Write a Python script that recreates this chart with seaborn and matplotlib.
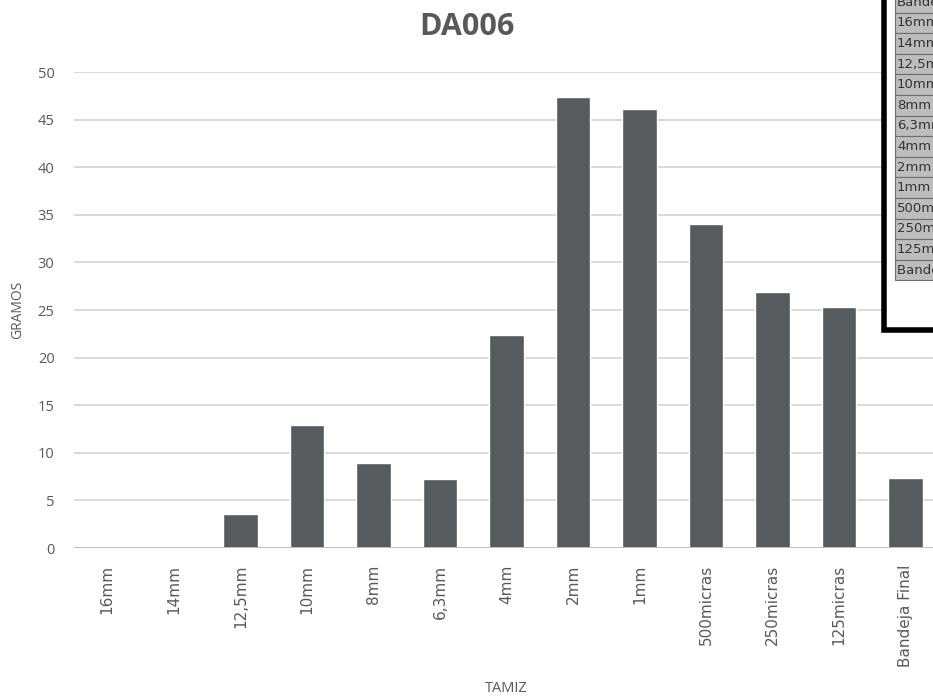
import matplotlib
matplotlib.use("Agg")
import matplotlib.pyplot as plt
import seaborn as sns
import pandas as pd
from matplotlib.patches import Rectangle

# datos del tamizado DA006
tamiz = ['16mm', '14mm', '12,5mm', '10mm', '8mm', '6,3mm', '4mm', '2mm', '1mm',
         '500micras', '250micras', '125micras', 'Bandeja Final']
gramos = [0, 0, 3.6, 12.9, 8.9, 7.3, 22.4, 47.4, 46.1, 34.0, 26.9, 25.3, 7.4]
tabla_filas = ['Bandeja', '16mm', '14mm', '12,5mm', '10mm', '8mm', '6,3mm', '4mm',
               '2mm', '1mm', '500micras', '250micras', '125micras', 'Bandeja Final']
yticks = list(range(0, 51, 5))

df = pd.DataFrame({'TAMIZ': tamiz, 'GRAMOS': gramos})

sns.set_style('white')
plt.rcParams['font.family'] = ['Open Sans', 'DejaVu Sans']

fig = plt.figure(figsize=(9.33, 6.98), dpi=100)
ax = fig.add_axes([74 / 933, 1 - 548 / 698, 865 / 933, (548 - 72) / 698])

sns.barplot(data=df, x='TAMIZ', y='GRAMOS', color='#585b5e', width=0.52,
            saturation=1, ax=ax, zorder=3)

ax.set_ylim(0, 50)
ax.set_yticks(yticks)
ax.set_xlim(-0.5, len(tamiz) - 0.5)
ax.grid(axis='y', color='#d9d9d9', linewidth=1.4, zorder=0)
ax.axhline(0, color='#bfbfbf', linewidth=1.4, zorder=4)
sns.despine(ax=ax, left=True, bottom=True, top=True, right=True)

ax.tick_params(axis='y', length=0, pad=14, labelsize=10.5, labelcolor='#595959')
ax.tick_params(axis='x', length=0, pad=12, labelsize=11, labelcolor='#595959')
for lbl in ax.get_xticklabels():
    lbl.set_rotation(90)
    lbl.set_family('DejaVu Sans')

ax.set_xlabel('TAMIZ', fontsize=10.5, color='#595959', labelpad=10)
ax.set_ylabel('GRAMOS', fontsize=10, color='#595959', labelpad=9)
fig.text(467 / 933, 1 - 27 / 698, 'DA006', ha='center', va='center',
         fontsize=22, fontweight='bold', color='#595959')

# recuadro de la tabla pegada (cortada por el borde)
ov = fig.add_axes([0, 0, 1, 1], zorder=10)
ov.set_xlim(0, 933)
ov.set_ylim(698, 0)
ov.axis('off')
ov.patch.set_alpha(0)
ov.add_patch(Rectangle((884, -10), 80, 340, facecolor='white', edgecolor='black', linewidth=4))
row_h = 20.6
y0 = -8
for i, nombre in enumerate(tabla_filas):
    y = y0 + i * row_h
    ov.add_patch(Rectangle((895, y), 60, row_h, facecolor='#bdbdbd',
                           edgecolor='#6e6e6e', linewidth=0.8))
    ov.text(897, y + row_h / 2, nombre, ha='left', va='center', fontsize=9.5,
            color='#333333', family='DejaVu Sans', clip_on=False)

fig.savefig('out.png', dpi=100)
